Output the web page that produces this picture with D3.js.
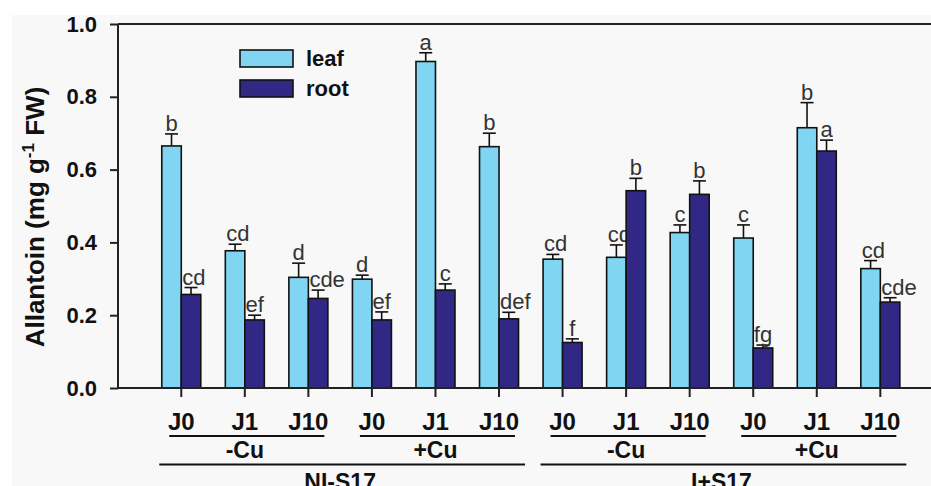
<!DOCTYPE html>
<html lang="en">
<head>
<meta charset="utf-8">
<title>Allantoin</title>
<script src="https://d3js.org/d3.v7.min.js"></script>
<style>
    body { margin: 0; background: #ffffff; }
    svg { display: block; font-family: "Liberation Sans", Arial, sans-serif; }
    .axis text { font-weight: bold; fill: #111; }
    .axis line, .axis path { stroke: #222; stroke-width: 2; }
    .sig { font-size: 22px; fill: #333; }
</style>
</head>
<body>
<div id="chart"></div>
<script>
// bar labels along the x axis
const days = ["J0", "J1", "J10", "J0", "J1", "J10", "J0", "J1", "J10", "J0", "J1", "J10"];
const cuLabels = ["-Cu", "+Cu", "-Cu", "+Cu"];
const strainLabels = ["NI-S17", "I+S17"];

// means and upper error bar ends
const leaf    = [0.665, 0.377, 0.304, 0.299, 0.897, 0.663, 0.354, 0.359, 0.427, 0.412, 0.715, 0.328];
const leafErr = [0.698, 0.395, 0.343, 0.310, 0.921, 0.700, 0.367, 0.393, 0.448, 0.448, 0.784, 0.350];
const root    = [0.257, 0.187, 0.246, 0.187, 0.269, 0.190, 0.125, 0.542, 0.532, 0.110, 0.651, 0.236];
const rootErr = [0.276, 0.200, 0.269, 0.209, 0.286, 0.208, 0.135, 0.576, 0.569, 0.118, 0.681, 0.248];
const leafSig = ["b", "cd", "d", "d", "a", "b", "cd", "cd", "c", "c", "b", "cd"];
const rootSig = ["cd", "ef", "cde", "ef", "c", "def", "f", "b", "b", "fg", "a", "cde"];

const yTicks = [0, 0.2, 0.4, 0.6, 0.8, 1.0];

const W = 931, H = 486;
const colLeaf = "#80d6f2", colRoot = "#312885";

const svg = d3.select("#chart").append("svg")
    .attr("width", W).attr("height", H);

// light grey plate like the scanned figure
svg.append("rect").attr("x", 12).attr("y", 15).attr("width", W).attr("height", H)
    .attr("fill", "#f8f8f8");

const axisLeftX = 118;
const idx = d3.range(days.length);
const x = d3.scaleBand().domain(idx).range([149.5, 912.1]);
const y = d3.scaleLinear().domain([0, 1]).range([388, 24]);
const barW = 19.5;

// frame: top line and x axis baseline run off the right edge
svg.append("line").attr("x1", axisLeftX).attr("x2", W).attr("y1", y(1)).attr("y2", y(1))
    .attr("stroke", "#222").attr("stroke-width", 2);

const gy = svg.append("g").attr("class", "axis")
    .attr("transform", `translate(${axisLeftX},0)`)
    .call(d3.axisLeft(y).tickValues(yTicks).tickFormat(d3.format(".1f")).tickSize(8).tickPadding(13));
gy.select(".domain").attr("d", `M0,${y(0)}V${y(1)}`);
gy.selectAll("text").attr("font-size", 22);

// bars
const bars = svg.append("g");
function drawSeries(vals, errs, sigs, col, off) {
    idx.forEach(i => {
        const cx = x(i) + x.bandwidth() / 2 + off;
        bars.append("rect")
            .attr("x", cx - barW / 2).attr("y", y(vals[i]))
            .attr("width", barW).attr("height", y(0) - y(vals[i]))
            .attr("fill", col).attr("stroke", "#111").attr("stroke-width", 1.6);
        bars.append("line").attr("x1", cx).attr("x2", cx)
            .attr("y1", y(vals[i])).attr("y2", y(errs[i]))
            .attr("stroke", "#111").attr("stroke-width", 1.6);
        bars.append("line").attr("x1", cx - 6.5).attr("x2", cx + 6.5)
            .attr("y1", y(errs[i])).attr("y2", y(errs[i]))
            .attr("stroke", "#111").attr("stroke-width", 1.6);
        const t = bars.append("text").attr("class", "sig")
            .attr("y", y(errs[i]) - 3)
            .text(sigs[i]);
        // short letters sit centred, long ones start at the bar's left edge
        const w = t.node().getComputedTextLength();
        if (w > barW) t.attr("x", cx - barW / 2 + 1);
        else t.attr("x", cx - w / 2);
    });
}
drawSeries(leaf, leafErr, leafSig, colLeaf, -barW / 2);
drawSeries(root, rootErr, rootSig, colRoot, barW / 2);

// x axis
const gx = svg.append("g").attr("class", "axis")
    .attr("transform", `translate(0,${y(0)})`)
    .call(d3.axisBottom(x).tickFormat(i => days[i]).tickSize(9).tickPadding(16));
gx.select(".domain").attr("d", `M${axisLeftX},0H${W}`);
gx.selectAll("text").attr("font-size", 24);

// treatment group lines
const cx = i => x(i) + x.bandwidth() / 2;
cuLabels.forEach((lab, k) => {
    const a = cx(k * 3), b = cx(k * 3 + 2);
    svg.append("line").attr("x1", a - 12).attr("x2", b + 16)
        .attr("y1", 436).attr("y2", 436).attr("stroke", "#111").attr("stroke-width", 2);
    svg.append("text").attr("x", (a + b) / 2).attr("y", 458)
        .attr("text-anchor", "middle").attr("font-size", 23).attr("font-weight", "bold")
        .attr("fill", "#111").text(lab);
});
strainLabels.forEach((lab, k) => {
    const a = cx(k * 6), b = cx(k * 6 + 5);
    svg.append("line").attr("x1", a - 22).attr("x2", b + 26)
        .attr("y1", 464.5).attr("y2", 464.5).attr("stroke", "#111").attr("stroke-width", 2);
    svg.append("text").attr("x", (a + b) / 2).attr("y", 490)
        .attr("text-anchor", "middle").attr("font-size", 23).attr("font-weight", "bold")
        .attr("fill", "#111").text(lab);
});

// y title
const yt = svg.append("text")
    .attr("transform", "translate(44,217) rotate(-90)")
    .attr("text-anchor", "middle").attr("font-size", 26).attr("font-weight", "bold")
    .attr("fill", "#111");
yt.append("tspan").text("Allantoin (mg g");
yt.append("tspan").attr("dy", -10).attr("font-size", 17).text("-1");
yt.append("tspan").attr("dy", 10).text(" FW)");

// legend
const legend = [["leaf", colLeaf], ["root", colRoot]];
legend.forEach(([name, col], k) => {
    svg.append("rect").attr("x", 240).attr("y", 50 + k * 30)
        .attr("width", 53).attr("height", 17)
        .attr("fill", col).attr("stroke", "#111").attr("stroke-width", 1.6);
    svg.append("text").attr("x", 306).attr("y", 66 + k * 30)
        .attr("font-size", 22).attr("font-weight", "bold").attr("fill", "#111")
        .text(name);
});
</script>
</body>
</html>
